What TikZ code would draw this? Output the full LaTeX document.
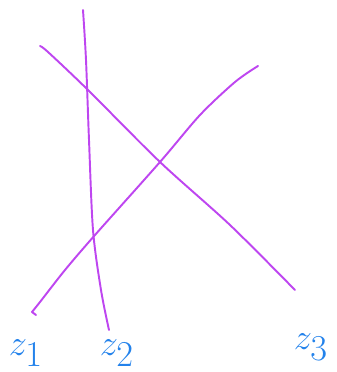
\documentclass[tikz,border=0pt]{standalone}
\usepackage{xcolor}
\usepackage{tikz}
\definecolor{penviolet}{RGB}{190,70,240}
\definecolor{penblue}{RGB}{35,130,235}

\begin{document}
\begin{tikzpicture}[x=0.02cm, y=-0.02cm,
    stroke/.style={draw=penviolet, line width=1.1pt, line cap=round, line join=round},
    lab/.style={text=penblue, font=\huge, inner sep=0pt}
]
    \useasboundingbox (0,0) rectangle (336,372);

    % Strokes
    \draw[stroke] plot[smooth] coordinates {(83,10) (86,60) (89,140) (93,230) (101,290) (109,330)};
    \draw[stroke] plot[smooth] coordinates {(40,46) (48,52) (88,90) (160,162) (230,225) (295,290)};
    \draw[stroke] plot[smooth] coordinates {(258,66) (235,82) (200,115) (160,162) (95,235) (65,270) (40,302) (32,312)} -- (36,315);

    % Labels
    \node[lab] (zone) at (26,353) {$z_{\textstyle 1}$};
    \node[lab] (ztwo) at (117,353) {$z_{\textstyle 2}$};
    \node[lab] (zthree) at (311,347) {$z_{\textstyle 3}$};
\end{tikzpicture}
\end{document}
